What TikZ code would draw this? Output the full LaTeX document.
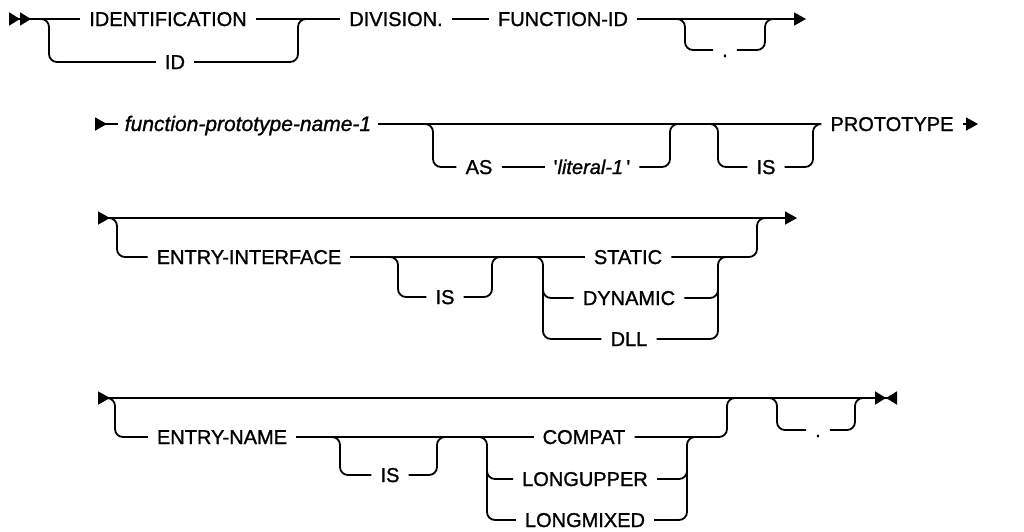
\documentclass[tikz,border=0pt]{standalone}
\usepackage{fontspec}
\setmainfont{Liberation Sans}
\newfontfamily\railfont{Liberation Sans}[FakeBold=1.2]
\usetikzlibrary{arrows.meta}

\begin{document}
\begin{tikzpicture}[x=1pt,y=-1pt,
    every node/.style={font=\railfont\fontsize{20}{24}\selectfont},
    kw/.style={inner xsep=9pt, inner ysep=0pt, text height=14pt, text depth=0pt},
    rail/.style={line width=1.8pt, rounded corners=8pt}]
  \useasboundingbox (0,0) rectangle (1024,531);
  % row 1: IDENTIFICATION / ID  DIVISION.  FUNCTION-ID  [.]
  \coordinate (r1s) at (9,19);
  \coordinate (r1e) at (806,19);
  \node[kw] (ident) at (168,19) {IDENTIFICATION};
  \node[kw] (idshort) at (175,62) {ID};
  \node[kw] (division) at (396,19) {DIVISION.};
  \node[kw] (funcid) at (563,19) {FUNCTION-ID};
  \node[kw] (dota) at (725,50) {.};
  \draw[rail,{Triangle[reversed,length=11pt,width=13pt]Triangle[reversed,length=11pt,width=13pt]}-] (r1s) -- (ident);
  \draw[rail] (34,19) -- (49,19) -- (49,62) -- (idshort);
  \draw[rail] (idshort) -- (298,62) -- (298,19) -- (308,19);
  \draw[rail] (ident) -- (division);
  \draw[rail] (division) -- (funcid);
  \draw[rail,-{Triangle[length=12pt,width=13pt]}] (funcid) -- (r1e);
  \draw[rail] (funcid.east) -- (685,19) -- (685,50) -- (dota);
  \draw[rail] (dota) -- (765,50) -- (765,19) -- (775,19);
  % row 2: function-prototype-name-1  [AS 'literal-1']  [IS]  PROTOTYPE
  \coordinate (r2s) at (95,124);
  \coordinate (r2e) at (978,124);
  \node[kw, inner xsep=7pt] (fpname) at (248,124) {\fontsize{21}{24}\selectfont\itshape function-prototype-name-1};
  \node[kw] (as) at (479,167) {AS};
  \node[kw] (lit) at (592,167) {'\textit{literal-1}\,'};
  \node[kw] (isa) at (766,167) {IS};
  \node[kw] (proto) at (892,124) {PROTOTYPE};
  \draw[rail,{Triangle[reversed,length=12pt,width=13pt]}-] (r2s) -- (fpname);
  \draw[rail] (fpname) -- (proto);
  \draw[rail] (fpname.east) -- (433,124) -- (433,167) -- (as);
  \draw[rail] (as) -- (lit);
  \draw[rail] (lit) -- (670,167) -- (670,124) -- (680,124);
  \draw[rail] (708,124) -- (718,124) -- (718,167) -- (isa);
  \draw[rail] (isa) -- (813,167) -- (813,124) -- (proto.west);
  \draw[rail,-{Triangle[length=12pt,width=13pt]}] (proto) -- (r2e);
  % row 3: [ENTRY-INTERFACE [IS] STATIC|DYNAMIC|DLL]
  \coordinate (r3s) at (98,218);
  \coordinate (r3e) at (797,218);
  \node[kw] (entint) at (249,257) {ENTRY-INTERFACE};
  \node[kw] (isb) at (445,297) {IS};
  \node[kw] (static) at (628,257) {STATIC};
  \node[kw] (dynamic) at (629,298) {DYNAMIC};
  \node[kw] (dll) at (629,339) {DLL};
  \draw[rail,{Triangle[reversed,length=12pt,width=13pt]}-{Triangle[length=12pt,width=13pt]}] (r3s) -- (r3e);
  \draw[rail] (108,218) -- (117,218) -- (117,257) -- (entint);
  \draw[rail] (entint) -- (static);
  \draw[rail] (entint.east) -- (398,257) -- (398,297) -- (isb);
  \draw[rail] (isb) -- (492,297) -- (492,257) -- (502,257);
  \draw[rail] (533,257) -- (543,257) -- (543,339) -- (dll);
  \draw[rail] (543,280) -- (543,298) -- (dynamic);
  \draw[rail] (dll) -- (718,339) -- (718,257) -- (728,257);
  \draw[rail] (dynamic) -- (718,298) -- (718,280);
  \draw[rail] (static) -- (757,257) -- (757,218) -- (767,218);
  % row 4: [ENTRY-NAME [IS] COMPAT|LONGUPPER|LONGMIXED]  [.]
  \coordinate (r4s) at (98,398);
  \coordinate (r4e) at (897,398);
  \node[kw] (entname) at (222,437) {ENTRY-NAME};
  \node[kw] (isc) at (390,475) {IS};
  \node[kw] (compat) at (584,437) {COMPAT};
  \node[kw] (longupper) at (585,479) {LONGUPPER};
  \node[kw] (longmixed) at (585,520) {LONGMIXED};
  \node[kw] (dotb) at (818,430) {.};
  \draw[rail,{Triangle[reversed,length=12pt,width=13pt]}-{Triangle[length=11pt,width=13pt]Triangle[reversed,length=11pt,width=13pt]}] (r4s) -- (r4e);
  \draw[rail] (108,398) -- (115,398) -- (115,437) -- (entname);
  \draw[rail] (entname) -- (compat);
  \draw[rail] (entname.east) -- (340,437) -- (340,475) -- (isc);
  \draw[rail] (isc) -- (437,475) -- (437,437) -- (447,437);
  \draw[rail] (477,437) -- (487,437) -- (487,520) -- (longmixed);
  \draw[rail] (487,470) -- (487,479) -- (longupper);
  \draw[rail] (longmixed) -- (687,520) -- (687,437) -- (697,437);
  \draw[rail] (longupper) -- (687,479) -- (687,460);
  \draw[rail] (compat) -- (727,437) -- (727,398) -- (737,398);
  \draw[rail] (767,398) -- (777,398) -- (777,430) -- (dotb);
  \draw[rail] (dotb) -- (855,430) -- (855,398) -- (865,398);
\end{tikzpicture}
\end{document}
